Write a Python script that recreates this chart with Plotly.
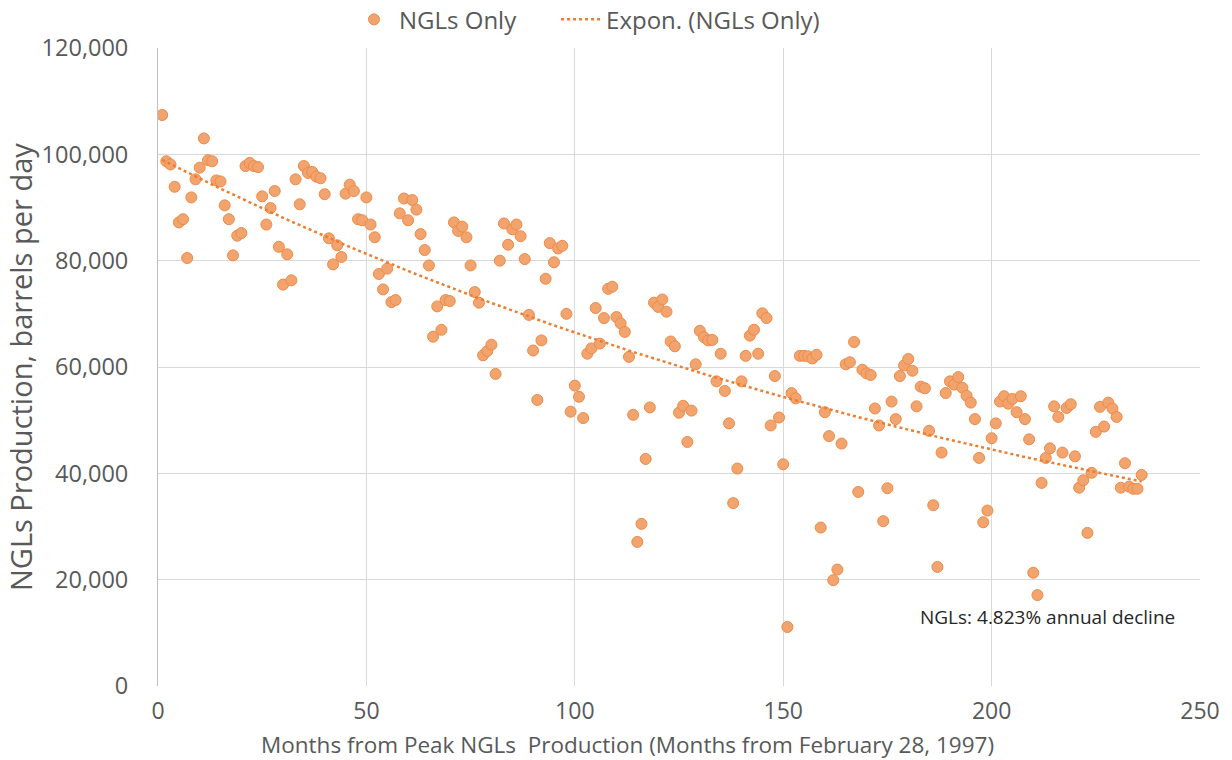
import numpy as np
import plotly.graph_objects as go

# Monthly NGL production, counted from the February 1997 peak
months = list(range(1, 237))
ngl_bpd = [
    107400, 98700, 98100, 93900, 87200, 87800, 80500, 91900, 95300, 97500,
    103000, 98900, 98700, 95100, 94900, 90400, 87800, 81000, 84700, 85200,
    97800, 98400, 97800, 97600, 92100, 86800, 89900, 93100, 82600, 75500,
    81200, 76300, 95300, 90600, 97800, 96500, 96700, 95800, 95500, 92500,
    84200, 79300, 82900, 80700, 92600, 94300, 93100, 87800, 87600, 91900,
    86800, 84400, 77500, 74600, 78500, 72200, 72600, 88900, 91700, 87600,
    91400, 89600, 85000, 82000, 79100, 65700, 71400, 67000, 72600, 72400,
    87200, 85600, 86400, 84400, 79100, 74100, 72100, 62200, 63000, 64200,
    58700, 80000, 87000, 83000, 85900, 86800, 84600, 80300, 69800, 63100,
    53800, 65000, 76600, 83300, 79700, 82300, 82800, 70000, 51600, 56500,
    54400, 50400, 62500, 63500, 71100, 64400, 69200, 74700, 75100, 69400,
    68200, 66600, 61900, 51000, 27100, 30500, 42700, 52400, 72100, 71300,
    72700, 70400, 64800, 63900, 51400, 52700, 45900, 51800, 60500, 66800,
    65600, 65000, 65100, 57300, 62500, 55500, 49400, 34400, 40900, 57300,
    62100, 65900, 67000, 62500, 70100, 69200, 49000, 58300, 50500, 41700,
    11100, 55100, 54100, 62100, 62100, 62000, 61600, 62300, 29800, 51500,
    47000, 19900, 21900, 45600, 60500, 60900, 64700, 36500, 59500, 58800,
    58500, 52200, 49000, 31000, 37200, 53500, 50200, 58300, 60300, 61500,
    59300, 52600, 56300, 56000, 48000, 34000, 22400, 43900, 55100, 57300,
    56700, 58100, 56100, 54600, 53300, 50200, 42900, 30800, 33000, 46600,
    49400, 53500, 54500, 53100, 54000, 51500, 54500, 50200, 46400, 21300,
    17100, 38200, 42900, 44700, 52600, 50600, 43900, 52300, 53000, 43200,
    37300, 38700, 28800, 40100, 47800, 52500, 48800, 53300, 52200, 50600,
    37300, 41900, 37500, 37100, 37100, 39700,
]
assert len(ngl_bpd) == len(months)

annual_decline_pct = 4.823
x_ticks = [0, 50, 100, 150, 200, 250]
y_ticks = [0, 20000, 40000, 60000, 80000, 100000, 120000]

# Exponential trend: slope from the stated annual decline, intercept by
# least squares on log(production)
x_arr = np.array(months, dtype=float)
y_arr = np.array(ngl_bpd, dtype=float)
b = -annual_decline_pct / 100.0 / 12.0
ln_a = np.mean(np.log(y_arr) - b * x_arr)
trend = np.exp(ln_a + b * x_arr)

ORANGE = "#ED7D31"
GRID = "#D9D9D9"
TXT = "#595959"
FONT = "Open Sans"

fig = go.Figure()
fig.add_trace(go.Scatter(
    x=months, y=ngl_bpd, mode="markers", name="NGLs Only", legend="legend",
    marker=dict(size=11, color="#F2A46F", line=dict(color="#EE8A48", width=1)),
))
fig.add_trace(go.Scatter(
    x=months, y=trend, mode="lines", name="Expon. (NGLs Only)", legend="legend2",
    line=dict(color=ORANGE, width=2.5, dash="dot"),
))

fig.add_annotation(
    x=244.4, y=13000, xref="x", yref="y",
    text=f"NGLs: {annual_decline_pct}% annual decline",
    showarrow=False, xanchor="right", yanchor="middle",
    font=dict(family=FONT, size=19, color="#262626"),
)
# Axis titles placed as annotations
fig.add_annotation(
    x=0.451, y=-0.0917, xref="paper", yref="paper",
    text="Months from Peak NGLs\u00a0 Production (Months from February 28, 1997)",
    showarrow=False, xanchor="center", yanchor="middle",
    font=dict(family=FONT, size=22.5, color=TXT),
)
fig.add_annotation(
    x=-0.1324, y=0.5, xref="paper", yref="paper",
    text="NGLs Production, barrels per day", textangle=-90,
    showarrow=False, xanchor="center", yanchor="middle",
    font=dict(family=FONT, size=29, color=TXT),
)

legend_common = dict(
    orientation="h", xanchor="left", yref="container", y=0.974, yanchor="middle",
    font=dict(family=FONT, size=24, color=TXT), bgcolor="rgba(0,0,0,0)", itemwidth=40,
)

fig.update_layout(
    width=1232, height=760,
    margin=dict(l=158, r=32, t=48, b=74, autoexpand=False),
    paper_bgcolor="white", plot_bgcolor="white",
    font=dict(family=FONT, color=TXT),
    showlegend=True,
    legend=dict(x=0.1833, **legend_common),
    legend2=dict(x=0.382, **legend_common),
    xaxis=dict(
        range=[0, 250], tickvals=x_ticks, showgrid=True, gridcolor=GRID,
        gridwidth=1, zeroline=False, showline=False,
        tickfont=dict(family=FONT, size=23, color=TXT), ticklabelstandoff=9,
    ),
    yaxis=dict(
        range=[0, 120000], tickvals=y_ticks, tickformat=",", showgrid=True,
        gridcolor=GRID, gridwidth=1, zeroline=False,
        showline=True, linecolor="#BFBFBF", linewidth=1,
        tickfont=dict(family=FONT, size=23.5, color=TXT), ticklabelstandoff=24,
    ),
)

fig.write_html("out.html")
